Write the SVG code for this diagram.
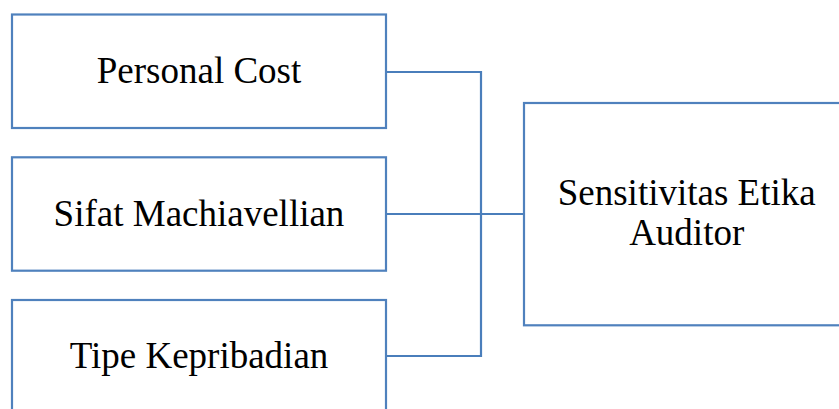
<svg xmlns="http://www.w3.org/2000/svg" width="839" height="409" viewBox="0 0 839 409">
<style>
.box{fill:#fff;stroke:#4f81bd;stroke-width:2.2}
.lbl{font-family:"Liberation Serif","Times New Roman",serif;font-size:37px;fill:#000;text-anchor:middle}
.conn{fill:none;stroke:#4a7ebb;stroke-width:2.2}
</style>
<rect width="839" height="409" fill="#fff"/>
<g id="connectors">
<polyline class="conn" points="386,72 481,72 481,356 386,356"/>
<line class="conn" x1="386" y1="214" x2="524" y2="214"/>
</g>
<g id="personal-cost">
<rect class="box" x="12" y="14.5" width="374" height="113.5"/>
<text class="lbl" x="199" y="82.5">Personal Cost</text>
</g>
<g id="sifat-machiavellian">
<rect class="box" x="12" y="157.3" width="374" height="113.4"/>
<text class="lbl" x="199" y="226">Sifat Machiavellian</text>
</g>
<g id="tipe-kepribadian">
<rect class="box" x="12" y="300" width="374" height="113"/>
<text class="lbl" x="199" y="368.3">Tipe Kepribadian</text>
</g>
<g id="sensitivitas-etika-auditor">
<rect class="box" x="524" y="103" width="325" height="222.3"/>
<text class="lbl" x="686.7" y="205">Sensitivitas Etika</text>
<text class="lbl" x="686.7" y="245">Auditor</text>
</g>
</svg>
